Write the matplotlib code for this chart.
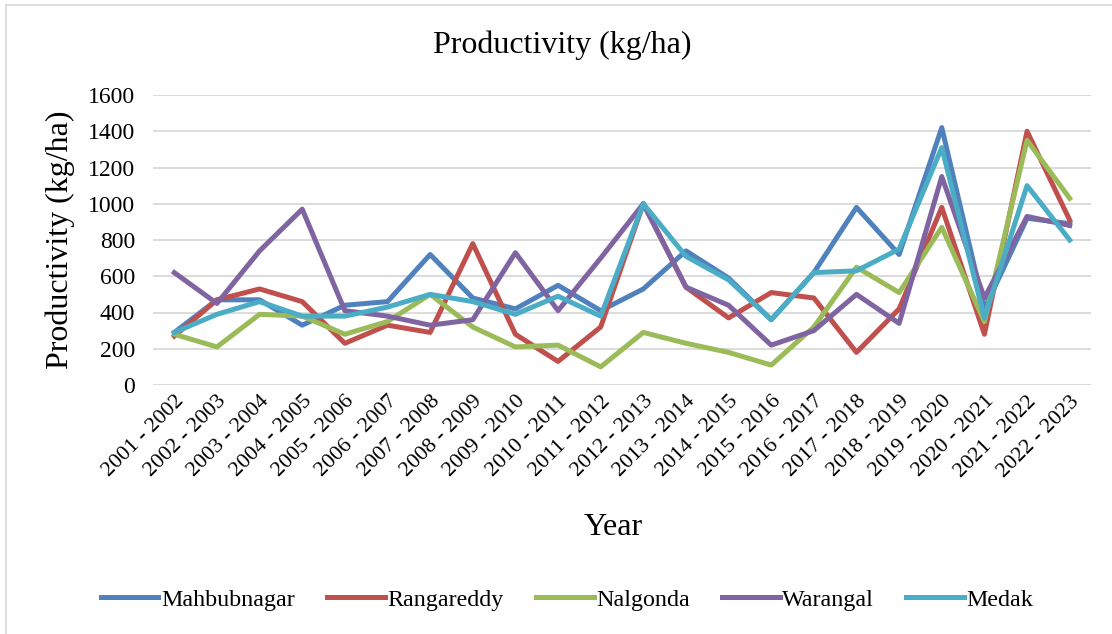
import matplotlib
matplotlib.use("Agg")
import matplotlib.pyplot as plt
from matplotlib.lines import Line2D
import numpy as np

plt.rcParams['font.family'] = ['Liberation Serif', 'DejaVu Serif']

years = ["2001 - 2002", "2002 - 2003", "2003 - 2004", "2004 - 2005", "2005 - 2006",
         "2006 - 2007", "2007 - 2008", "2008 - 2009", "2009 - 2010", "2010 - 2011",
         "2011 - 2012", "2012 - 2013", "2013 - 2014", "2014 - 2015", "2015 - 2016",
         "2016 - 2017", "2017 - 2018", "2018 - 2019", "2019 - 2020", "2020 - 2021",
         "2021 - 2022", "2022 - 2023"]

mahbubnagar = [290, 470, 470, 330, 440, 460, 720, 480, 420, 550, 410,
               530, 740, 590, 360, 620, 980, 720, 1420, 420, 920, 890]
rangareddy = [270, 470, 530, 460, 230, 330, 290, 780, 280, 130, 320,
              1000, 540, 370, 510, 480, 180, 420, 980, 280, 1400, 910]
nalgonda = [280, 210, 390, 380, 280, 350, 500, 320, 210, 220, 100,
            290, 230, 180, 110, 320, 650, 510, 870, 350, 1350, 1030]
warangal = [620, 450, 740, 970, 410, 380, 330, 360, 730, 410, 700,
            1000, 540, 440, 220, 300, 500, 340, 1150, 480, 930, 880]
medak = [290, 390, 460, 380, 380, 430, 500, 460, 390, 490, 380,
         1000, 710, 580, 360, 620, 630, 750, 1310, 370, 1100, 800]

series = [("Mahbubnagar", mahbubnagar, "#4F81BD"),
          ("Rangareddy", rangareddy, "#C0504D"),
          ("Nalgonda", nalgonda, "#9BBB59"),
          ("Warangal", warangal, "#8064A2"),
          ("Medak", medak, "#4BACC6")]

fig = plt.figure(figsize=(11.12, 6.34), dpi=100)
ax = fig.add_axes([153 / 1112, 1 - 385 / 634, 938 / 1112, 290 / 634])

x = np.arange(len(years))
for name, vals, col in series:
    ax.plot(x, vals, color=col, lw=3.6, label=name, solid_joinstyle='round')

ax.set_xlim(-0.5, len(years) - 0.5)
ax.set_ylim(0, 1600)
ax.set_yticks(range(0, 1601, 200))
ax.set_xticks(x)
ax.set_xticklabels(years, rotation=45, ha='right', rotation_mode='anchor', fontsize=15.8)
ax.tick_params(axis='y', labelsize=17, length=0, pad=13)
ax.tick_params(axis='x', length=0, pad=5)
ax.grid(axis='y', color='#D9D9D9', lw=1.3)
ax.set_axisbelow(True)
for s in ax.spines.values():
    s.set_visible(False)

ax.set_ylabel("Productivity (kg/ha)", fontsize=23)
ax.yaxis.set_label_coords(-0.083, 0.5)
fig.text(0.506, 0.929, "Productivity (kg/ha)", fontsize=23, ha='center', va='center')
fig.text(0.551, 0.168, "Year", fontsize=23, ha='center', va='center')

fig.legend(loc='center', bbox_to_anchor=(0.510, 0.054), ncol=5, frameon=False,
           fontsize=17.3, handlelength=2.4, handletextpad=0.1, columnspacing=1.35)

# chart area border (left and top edges only visible)
fig.add_artist(Line2D([6 / 1112, 6 / 1112], [0, 1 - 5 / 634], color='#D9D9D9', lw=1.2))
fig.add_artist(Line2D([6 / 1112, 1], [1 - 5 / 634, 1 - 5 / 634], color='#D9D9D9', lw=1.2))

fig.savefig("out.png", dpi=100)
